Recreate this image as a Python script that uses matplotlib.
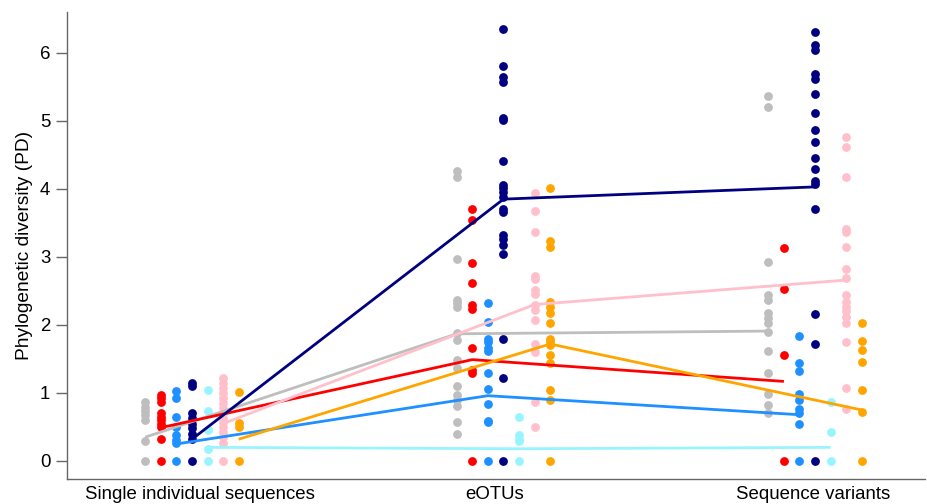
import matplotlib.pyplot as plt

plt.rcParams['font.family'] = ['Liberation Sans', 'DejaVu Sans']

groups = ["Single individual sequences", "eOTUs", "Sequence variants"]
colors = ["#BEBEBE", "#FF0000", "#1E90FF", "#000080", "#98F5FF", "#FFC0CB", "#FFA500"]

# points per series, one list per group
gray = [
    [0, 0.3, 0.6, 0.67, 0.73, 0.8, 0.87],
    [0.39, 0.58, 0.81, 0.9, 0.97, 1.1, 1.37, 1.49, 1.78, 1.88, 2.27, 2.32, 2.37, 2.97, 4.18, 4.26],
    [0.70, 0.82, 0.99, 1.29, 1.62, 1.90, 2.03, 2.10, 2.17, 2.37, 2.44, 2.93, 5.20, 5.37],
]
red = [
    [0, 0.33, 0.5, 0.55, 0.6, 0.65, 0.7, 0.87, 0.92, 0.97],
    [0, 1.29, 1.34, 1.66, 2.24, 2.30, 2.62, 2.91, 3.55, 3.70],
    [0, 1.56, 2.53, 3.13],
]
blue = [
    [0, 0.26, 0.31, 0.38, 0.5, 0.65, 0.93, 1.03],
    [0, 0.57, 0.59, 0.84, 1.06, 1.30, 1.61, 1.66, 1.75, 1.80, 2.05, 2.32],
    [0, 0.54, 0.70, 0.77, 0.90, 0.99, 1.32, 1.44, 1.84],
]
navy = [
    [0, 0.33, 0.4, 0.48, 0.55, 0.63, 0.7, 1.1, 1.15],
    [0, 1.22, 1.79, 3.05, 3.18, 3.27, 3.32, 3.66, 3.70, 3.88, 3.96, 4.01, 4.06, 4.41, 5.01, 5.04,
     5.57, 5.65, 5.81, 6.35],
    [0, 1.72, 2.16, 3.70, 4.07, 4.11, 4.29, 4.45, 4.69, 4.86, 5.11, 5.40, 5.62, 5.69, 6.04, 6.12, 6.30],
]
cyan = [
    [0, 0.18, 0.46, 0.74, 1.05],
    [0, 0.29, 0.33, 0.38, 0.64],
    [0, 0.43, 0.87],
]
pink = [
    [0, 0.27, 0.35, 0.42, 0.5, 0.57, 0.63, 0.7, 0.78, 0.85, 0.92, 1.0, 1.07, 1.14, 1.22],
    [0.5, 0.87, 1.6, 1.72, 2.07, 2.22, 2.29, 2.46, 2.51, 2.67, 2.72, 3.36, 3.68, 3.94],
    [0.77, 1.08, 1.75, 2.03, 2.12, 2.20, 2.27, 2.34, 2.44, 2.69, 2.83, 3.14, 3.36, 3.41, 4.17, 4.61, 4.76],
]
orange = [
    [0, 0.5, 0.56, 1.02],
    [0, 0.89, 1.04, 1.44, 1.56, 1.71, 1.75, 1.80, 2.03, 2.17, 2.27, 2.34, 3.15, 3.23, 4.01],
    [0, 0.72, 1.04, 1.45, 1.63, 1.77, 2.03],
]

# fitted line per series across the three groups
gray_line = [0.35, 1.87, 1.91]
red_line = [0.49, 1.49, 1.17]
blue_line = [0.25, 0.96, 0.68]
navy_line = [0.32, 3.85, 4.03]
cyan_line = [0.2, 0.18, 0.2]
pink_line = [0.55, 2.3, 2.66]
orange_line = [0.32, 1.72, 0.75]

series = [gray, red, blue, navy, cyan, pink, orange]
lines = [gray_line, red_line, blue_line, navy_line, cyan_line, pink_line, orange_line]

fig = plt.figure(figsize=(9.28, 5.04), dpi=100)
ax = fig.add_axes([0.0722, 0.0496, 0.9246, 0.9264])

step = 0.05
for k in range(len(series)):
    off = (k - 3) * step
    for g in range(3):
        vals = series[k][g]
        ax.scatter([g + 1 + off] * len(vals), vals, s=40, color=colors[k],
                   linewidths=0, zorder=2)

for k in range(len(lines)):
    off = (k - 3) * step
    ax.plot([1 + off, 2 + off, 3 + off], lines[k], color=colors[k], lw=2, zorder=3,
            solid_capstyle='butt')

ax.set_xlim(0.599, 3.353)
ax.set_ylim(-0.265, 6.6)
ax.set_xticks([1.026, 1.973, 2.994])
ax.set_xticklabels(groups, fontsize=13.4)
ax.set_yticks(range(7))
ax.tick_params(axis='x', length=0, pad=5)
ax.tick_params(axis='y', length=8, width=1, color='#666666', labelsize=13.4, pad=4)
for s in ['top', 'right']:
    ax.spines[s].set_visible(False)
for s in ['left', 'bottom']:
    ax.spines[s].set_color('#666666')
    ax.spines[s].set_linewidth(1)
ax.set_ylabel("Phylogenetic diversity (PD)", fontsize=13.8, labelpad=5)

fig.savefig("out.png", dpi=100)
